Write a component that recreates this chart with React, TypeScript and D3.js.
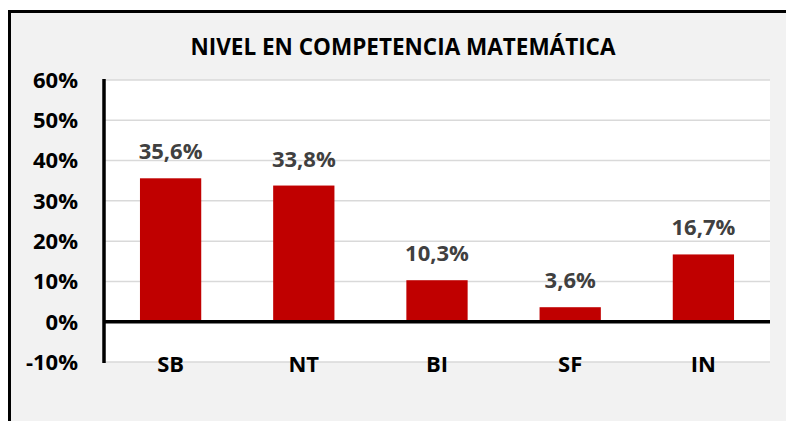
import React from "react";
import * as d3 from "d3";

const categories = ["SB", "NT", "BI", "SF", "IN"];
const values = [35.6, 33.8, 10.3, 3.6, 16.7];
const valueLabels = ["35,6%", "33,8%", "10,3%", "3,6%", "16,7%"];
const yTicks = [-10, 0, 10, 20, 30, 40, 50, 60];
const title = "NIVEL EN COMPETENCIA MATEMÁTICA";

const W = 786;
const H = 421;
const plotLeft = 104;
const plotRight = 770;
const plotTop = 80;
const plotBottom = 362;
const font = "'Open Sans', sans-serif";
const fs = 22;

export default function App() {
  const x = d3.scaleBand<string>().domain(categories).range([plotLeft, plotRight]).paddingInner(0.54).paddingOuter(0.27);
  const y = d3.scaleLinear().domain([-10, 60]).range([plotBottom, plotTop]);
  const y0 = y(0);

  return (
    <svg width={W} height={H} style={{ position: "absolute", left: 0, top: 0, display: "block" }}>
      <rect x={9.5} y={11.5} width={W + 20} height={H + 20} fill="#F2F2F2" stroke="#000" strokeWidth={3} />
      <text x={403} y={55} textAnchor="middle" fontFamily={font} fontWeight={700} fontSize={22.5} fill="#000">
        {title}
      </text>
      <rect x={plotLeft} y={plotTop} width={plotRight - plotLeft} height={plotBottom - plotTop} fill="#fff" />
      {yTicks.map((t) => (
        <g key={t}>
          <line x1={plotLeft} x2={plotRight} y1={y(t)} y2={y(t)} stroke="#D9D9D9" strokeWidth={1.5} />
          <text x={78} y={y(t)} dy="0.36em" textAnchor="end" fontFamily={font} fontWeight={700} fontSize={fs} fill="#000">
            {`${t}%`}
          </text>
        </g>
      ))}
      {categories.map((c, i) => (
        <rect key={c} x={x(c)} y={y(values[i])} width={x.bandwidth()} height={y0 - y(values[i])} fill="#C00000" />
      ))}
      {categories.map((c, i) => (
        <text key={c} x={(x(c) as number) + x.bandwidth() / 2} y={y(values[i]) - 19} textAnchor="middle" fontFamily={font} fontWeight={700} fontSize={fs} fill="#404040">
          {valueLabels[i]}
        </text>
      ))}
      <line x1={plotLeft} x2={plotRight} y1={y0} y2={y0} stroke="#000" strokeWidth={3.5} />
      <line x1={plotLeft} x2={plotLeft} y1={plotTop - 1} y2={plotBottom + 1} stroke="#000" strokeWidth={3.5} />
      {categories.map((c) => (
        <text key={c} x={(x(c) as number) + x.bandwidth() / 2} y={372} textAnchor="middle" fontFamily={font} fontWeight={700} fontSize={fs} fill="#000">
          {c}
        </text>
      ))}
    </svg>
  );
}
